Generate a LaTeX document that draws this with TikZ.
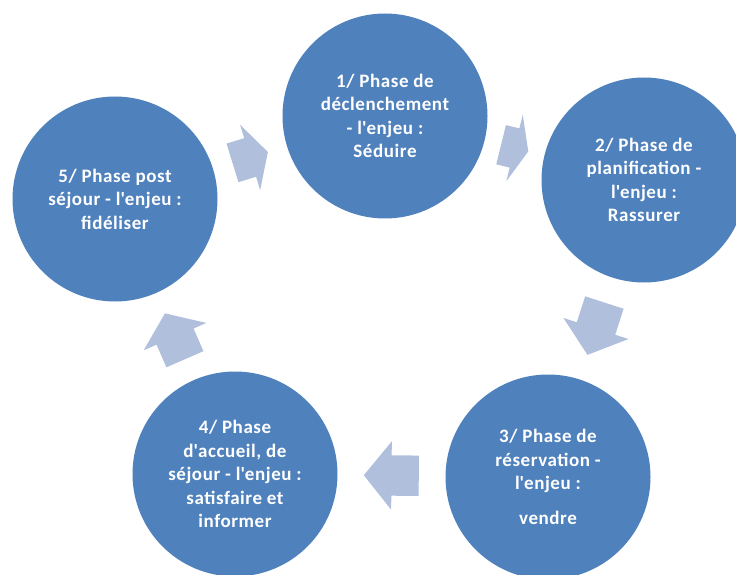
\documentclass[tikz,border=0pt]{standalone}
\usepackage{fontspec}
\setmainfont{Carlito}[LetterSpace=3.0]
\usetikzlibrary{shapes.arrows, calc}
\definecolor{phaseblue}{HTML}{4F81BD}
\definecolor{cyclearrow}{HTML}{B0C0DC}
\newcommand{\ap}{\textquotesingle}
\tikzset{
    phase/.style={circle, fill=phaseblue, minimum size=205pt, inner sep=0pt,
        text=white, align=center, font=\fontsize{19}{23.5}\selectfont\bfseries},
    cyclearr/.style={single arrow, fill=cyclearrow, inner xsep=0pt, inner ysep=20pt,
        single arrow head extend=14pt, sloped, allow upside down, anchor=tail}
}
\begin{document}
\begin{tikzpicture}[x=1pt, y=1pt]
    \clip (0,0) rectangle (736,574);
    \fill[white] (0,0) rectangle (736,574);

    \node[phase] (c1) at (385,458) {1/ Phase de\\déclenchement\\- l\ap enjeu :\\Séduire};
    \node[phase] (c2) at (644,394) {2/ Phase de\\planification -\\l\ap enjeu :\\Rassurer};
    \node[phase] (c3) at (548,97) {3/ Phase de\\réservation -\\l\ap enjeu :\\[11pt]vendre};
    \node[phase] (c4) at (235,100) {4/ Phase\\d\ap accueil, de\\séjour - l\ap enjeu :\\satisfaire et\\informer};
    \node[phase] (c5) at (115,375) {5/ Phase post\\séjour - l\ap enjeu :\\fidéliser};

    \foreach \a/\b/\len/\tip in {c1/c2/28/135, c2/c3/55/102, c3/c4/55/102, c4/c5/50/107, c5/c1/37/123} {
        \coordinate (m) at ($(\a.center)!0.5!(\b.center)$);
        \coordinate (t) at ($(m)!-\len pt/2!(\b.center)$);
        \path (t) -- node[cyclearr, pos=0, minimum height=\len pt, single arrow tip angle=\tip] {} (\b.center);
    }
\end{tikzpicture}
\end{document}
